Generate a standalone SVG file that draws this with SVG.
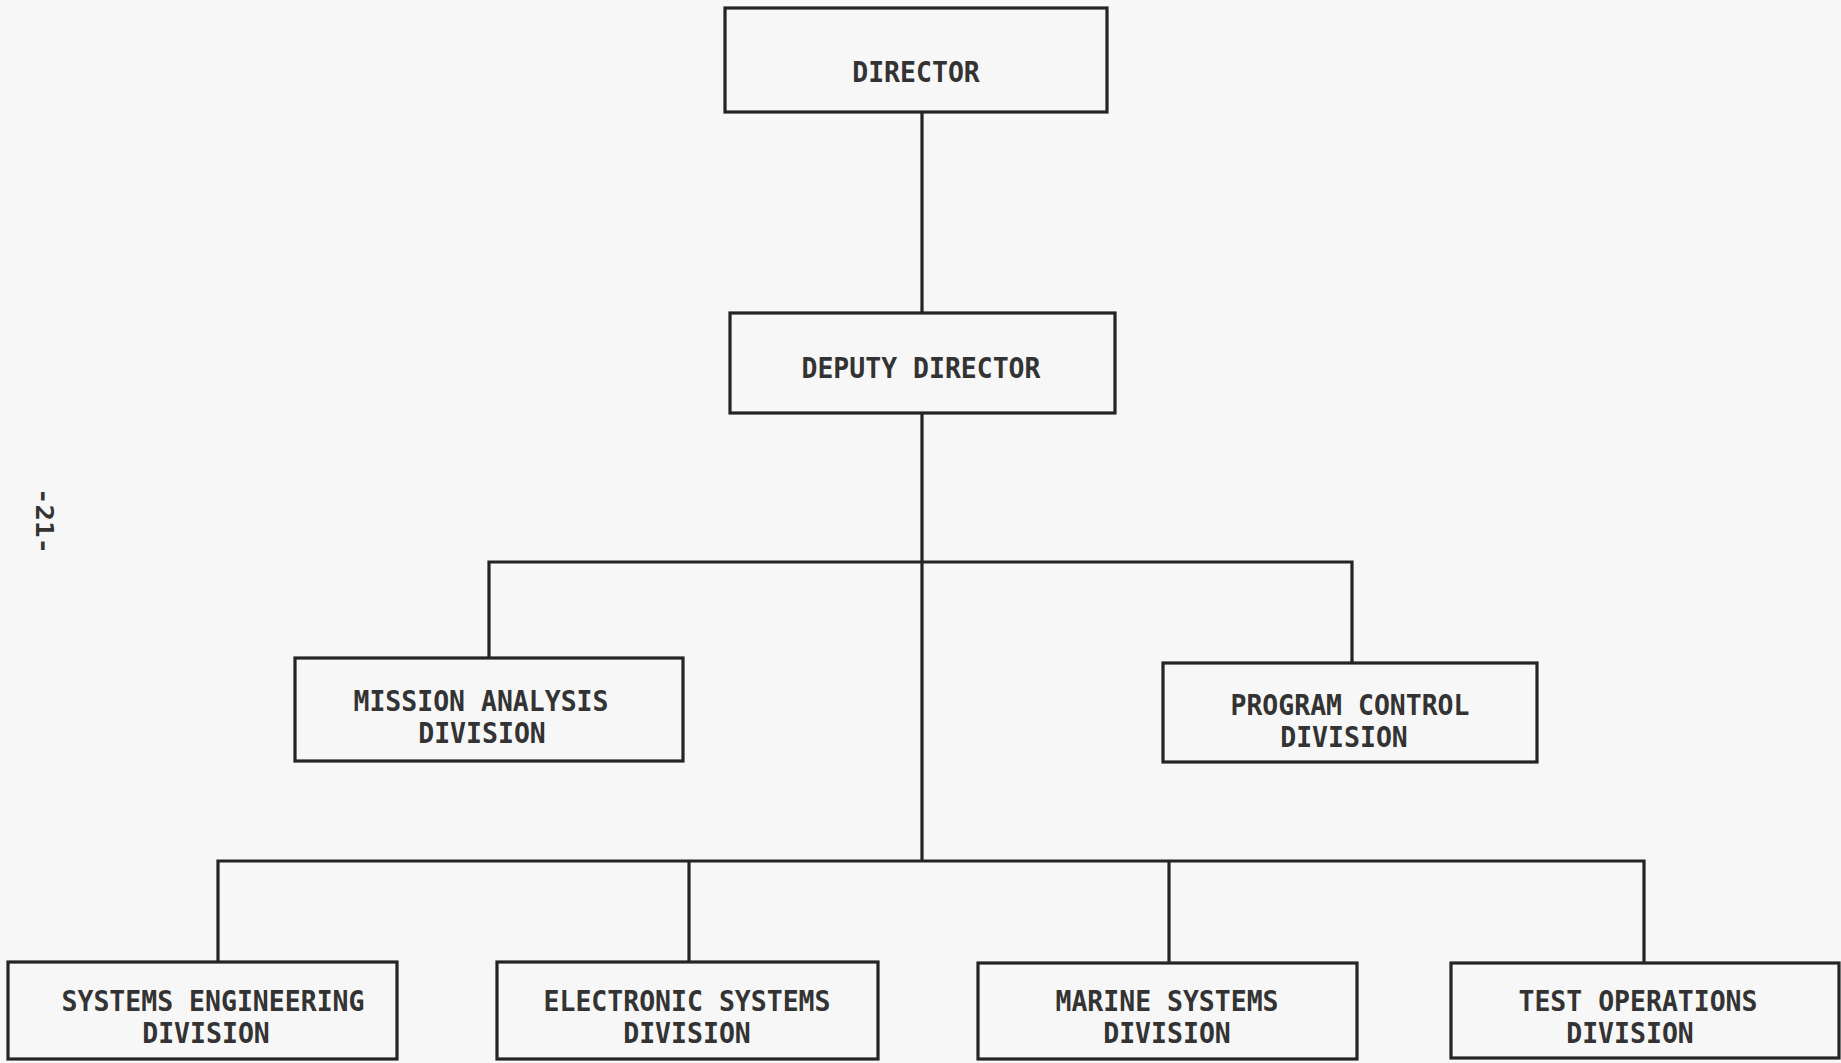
<svg xmlns="http://www.w3.org/2000/svg" width="1841" height="1063" viewBox="0 0 1841 1063">
<style>
.box{fill:none;stroke:#242424;stroke-width:3.2}
.conn{fill:none;stroke:#242424;stroke-width:3.2}
.lbl{font-family:"DejaVu Sans Mono","Liberation Mono",monospace;font-size:28.5px;font-weight:bold;fill:#333;text-anchor:middle}
.pg{font-family:"DejaVu Sans Mono","Liberation Mono",monospace;font-size:24px;font-weight:bold;fill:#333;text-anchor:middle}
</style>
<rect width="1841" height="1063" fill="#f7f7f7"/>
<g id="connectors">
<line class="conn" x1="922" y1="112" x2="922" y2="313"/>
<line class="conn" x1="922" y1="413" x2="922" y2="861"/>
<polyline class="conn" points="489,658 489,562 1352,562 1352,663"/>
<polyline class="conn" points="218,962 218,861 1644,861 1644,963"/>
<line class="conn" x1="689" y1="861" x2="689" y2="962"/>
<line class="conn" x1="1169" y1="861" x2="1169" y2="963"/>
</g>
<g id="director">
<rect class="box" x="725" y="8" width="382" height="104"/>
<text class="lbl" x="916" y="82" textLength="127.6" lengthAdjust="spacingAndGlyphs">DIRECTOR</text>
</g>
<g id="deputy-director">
<rect class="box" x="730" y="313" width="385" height="100"/>
<text class="lbl" x="921" y="378" textLength="239" lengthAdjust="spacingAndGlyphs">DEPUTY DIRECTOR</text>
</g>
<g id="mission-analysis">
<rect class="box" x="295" y="658" width="388" height="103"/>
<text class="lbl" x="481" y="710.5" textLength="255" lengthAdjust="spacingAndGlyphs">MISSION ANALYSIS</text>
<text class="lbl" x="482" y="742.5" textLength="127.6" lengthAdjust="spacingAndGlyphs">DIVISION</text>
</g>
<g id="program-control">
<rect class="box" x="1163" y="663" width="374" height="99"/>
<text class="lbl" x="1350" y="714.5" textLength="239" lengthAdjust="spacingAndGlyphs">PROGRAM CONTROL</text>
<text class="lbl" x="1344" y="746.5" textLength="127.6" lengthAdjust="spacingAndGlyphs">DIVISION</text>
</g>
<g id="systems-engineering">
<rect class="box" x="8" y="962" width="389" height="97"/>
<text class="lbl" x="213" y="1010.5" textLength="303" lengthAdjust="spacingAndGlyphs">SYSTEMS ENGINEERING</text>
<text class="lbl" x="206" y="1042.5" textLength="127.6" lengthAdjust="spacingAndGlyphs">DIVISION</text>
</g>
<g id="electronic-systems">
<rect class="box" x="497" y="962" width="381" height="97"/>
<text class="lbl" x="687" y="1010.5" textLength="287" lengthAdjust="spacingAndGlyphs">ELECTRONIC SYSTEMS</text>
<text class="lbl" x="687" y="1042.5" textLength="127.6" lengthAdjust="spacingAndGlyphs">DIVISION</text>
</g>
<g id="marine-systems">
<rect class="box" x="978" y="963" width="379" height="96"/>
<text class="lbl" x="1167" y="1010.5" textLength="223" lengthAdjust="spacingAndGlyphs">MARINE SYSTEMS</text>
<text class="lbl" x="1167" y="1042.5" textLength="127.6" lengthAdjust="spacingAndGlyphs">DIVISION</text>
</g>
<g id="test-operations">
<rect class="box" x="1451" y="963" width="388" height="95"/>
<text class="lbl" x="1638" y="1010.5" textLength="239" lengthAdjust="spacingAndGlyphs">TEST OPERATIONS</text>
<text class="lbl" x="1630" y="1042.5" textLength="127.6" lengthAdjust="spacingAndGlyphs">DIVISION</text>
</g>
<text class="pg" transform="translate(36,521) rotate(90)" textLength="66" lengthAdjust="spacingAndGlyphs">-21-</text>
</svg>
